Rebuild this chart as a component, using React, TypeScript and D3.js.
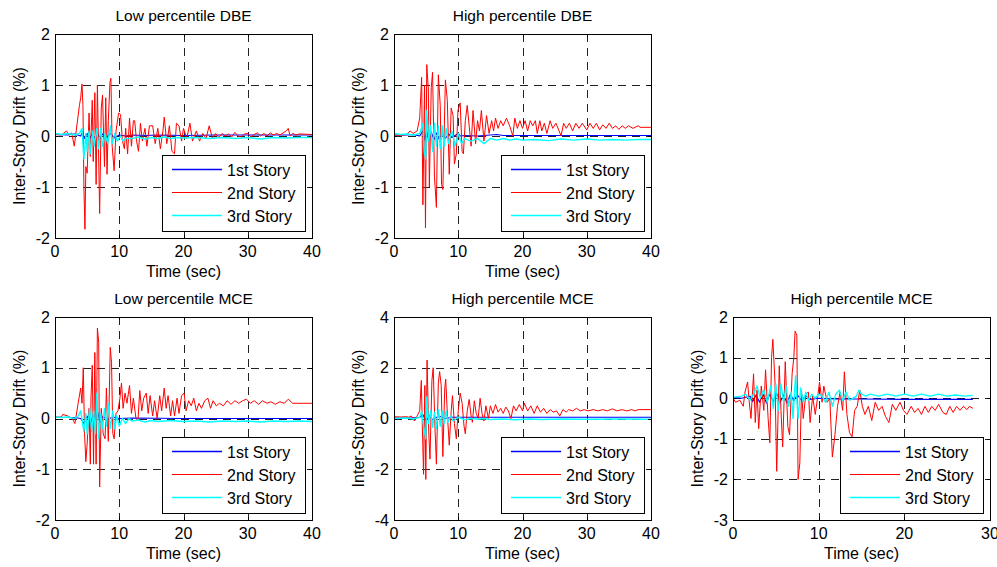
import React from 'react';
import * as d3 from 'd3';

type P = [number, number][];

// ---------- Data (time in sec, drift in %) ----------
const seriesNames = ['1st Story', '2nd Story', '3rd Story'];
const seriesColors = ['#0000ff', '#ff0000', '#00ffff'];
const seriesWidths = [1.1, 1, 1.4];

const p1Blue: P = [[0,0.03],[2,0.02],[3,0.04],[4,0.0],[4.3,0.08],[4.6,-0.05],[5,0.05],[5.4,-0.06],[5.8,0.05],[6.2,-0.04],[6.6,0.06],[7,-0.05],[7.4,0.04],[8,-0.03],[8.7,0.05],[9.2,-0.04],[10,0.02],[11,0.0],[12,0.02],[14,0.01],[16,0.02],[20,0.01],[25,0.02],[30,0.02],[35,0.02],[40,0.02]];
const p1Red: P = [[0,0.03],[1,0.02],[1.8,0.1],[2.2,0.02],[2.6,0.06],[3.0,-0.2],[3.3,0.1],[3.8,0.6],[4.0,0.75],[4.2,1.02],[4.35,0.6],[4.5,-1.0],[4.66,-1.83],[4.8,-0.6],[5.0,-0.73],[5.3,0.45],[5.5,-0.4],[5.8,0.7],[5.95,-0.5],[6.2,0.85],[6.4,-0.95],[6.6,1.0],[6.95,-1.52],[7.2,0.55],[7.4,0.8],[7.7,-0.6],[7.9,0.75],[8.1,-0.75],[8.3,0.3],[8.55,1.05],[8.7,1.13],[8.9,-0.2],[9.2,-0.68],[9.5,0.1],[9.9,0.45],[10.2,0.42],[10.5,-0.1],[10.8,-0.25],[11.0,0.15],[11.3,-0.35],[11.6,0.35],[11.9,-0.2],[12.2,0.3],[12.4,0.3],[12.7,-0.1],[13.0,-0.3],[13.3,0.25],[13.6,-0.1],[14.0,0.15],[14.3,-0.2],[14.7,0.2],[15.2,0.2],[15.6,-0.15],[16.0,0.15],[16.4,-0.25],[16.8,0.1],[17.0,0.37],[17.4,-0.15],[17.8,0.2],[18.2,-0.3],[18.6,-0.35],[18.9,0.25],[19.3,0.2],[19.7,-0.1],[20.0,0.15],[20.5,-0.05],[21.0,0.25],[21.4,-0.1],[22,0.1],[22.5,-0.1],[23,0.05],[23.5,-0.05],[24,0.2],[24.5,-0.05],[25,0.05],[25.5,-0.03],[26,0.05],[26.5,0.0],[27,0.04],[27.5,-0.02],[28,0.07],[28.5,0.0],[29,-0.02],[29.5,0.04],[30,0.05],[30.5,-0.02],[31,0.03],[31.5,0.06],[32,0.0],[32.5,0.05],[33,0.0],[33.5,0.06],[34,0.02],[34.5,0.05],[35,0.02],[35.5,0.06],[36,0.1],[36.3,0.15],[36.6,0.0],[37,0.05],[37.5,0.02],[38,0.04],[40,0.03]];
const p1Cyan: P = [[0,0.05],[1,0.03],[2,0.05],[3,0.02],[3.8,0.05],[4.2,0.15],[4.5,-0.45],[4.8,0.05],[5.0,-0.3],[5.3,0.1],[5.5,-0.35],[5.9,0.1],[6.1,-0.2],[6.5,0.15],[6.8,-0.25],[7.1,0.15],[7.4,-0.2],[7.8,0.05],[8.2,-0.15],[8.6,0.2],[8.9,-0.15],[9.3,0.05],[9.7,-0.1],[10.2,0.0],[10.6,-0.1],[11,-0.05],[12,-0.05],[13,-0.02],[14,-0.06],[15,-0.03],[16,-0.05],[17,-0.02],[18,-0.05],[19,-0.03],[20,-0.04],[22,-0.03],[24,-0.05],[26,-0.03],[28,-0.05],[30,-0.03],[32,-0.06],[34,-0.03],[36,-0.04],[38,-0.03],[40,-0.03]];

const p2Blue: P = [[0,0.02],[2,0.02],[3,0.03],[4,0.0],[4.5,0.1],[4.8,-0.08],[5.1,0.12],[5.4,-0.1],[5.8,0.08],[6.2,-0.08],[6.6,0.06],[7,-0.06],[7.5,0.05],[8,-0.05],[8.5,0.04],[9,-0.03],[10,0.05],[10.3,0.0],[11,0.01],[13,0.0],[16,0.03],[17,0.01],[20,0.01],[30,0.01],[40,0.01]];
const p2Red: P = [[0,0.02],[1,0.01],[2,0.03],[2.5,0.1],[3,0.05],[3.6,0.1],[4.0,0.35],[4.3,1.15],[4.5,-1.35],[4.75,1.0],[4.9,-1.8],[5.1,1.4],[5.35,0.9],[5.5,-1.0],[5.8,0.95],[6.0,1.25],[6.3,-0.8],[6.6,-1.4],[6.9,1.2],[7.2,0.6],[7.4,-0.95],[7.6,-1.05],[8.0,1.1],[8.3,0.7],[8.6,-0.75],[8.9,0.55],[9.2,0.4],[9.4,-0.55],[9.7,-0.35],[9.95,0.5],[10.3,0.65],[10.6,-0.3],[10.8,-0.35],[11.1,0.3],[11.4,0.6],[11.7,0.2],[12.0,-0.2],[12.3,0.5],[12.7,-0.15],[13.0,0.3],[13.3,0.1],[13.6,0.5],[14.0,-0.1],[14.4,0.4],[14.8,0.05],[15.2,0.3],[15.5,0.1],[15.8,0.35],[16.2,0.15],[16.6,0.3],[17.0,0.2],[17.5,0.35],[18.0,0.2],[18.5,0.0],[18.8,0.35],[19.2,0.15],[19.6,0.3],[20.0,0.15],[20.4,0.3],[20.8,0.1],[21.2,0.3],[21.6,0.2],[22.0,0.3],[22.3,0.05],[22.7,0.3],[23.0,0.1],[23.4,0.25],[23.8,0.05],[24.3,0.3],[24.7,0.15],[25.2,0.25],[25.7,0.1],[26.0,0.0],[26.4,0.25],[26.8,0.15],[27.3,0.25],[27.8,0.1],[28.3,0.25],[28.8,0.15],[29.3,0.25],[30,0.12],[30.5,0.25],[31,0.15],[31.5,0.25],[32,0.12],[32.5,0.22],[33,0.15],[33.5,0.25],[34,0.15],[34.5,0.2],[35,0.13],[35.5,0.2],[36,0.15],[36.5,0.2],[37.2,0.15],[38,0.2],[38.3,0.17],[40,0.17]];
const p2Cyan: P = [[0,0.05],[1,0.03],[2,0.04],[3,0.02],[4,0.05],[4.5,0.25],[4.7,-0.3],[4.95,-0.45],[5.1,0.5],[5.4,-0.1],[5.7,0.2],[6.0,-0.3],[6.3,0.25],[6.6,-0.2],[6.9,0.2],[7.2,-0.25],[7.5,0.2],[7.8,-0.2],[8.1,0.15],[8.5,-0.15],[9.0,0.1],[9.5,-0.2],[10,0.05],[10.5,-0.15],[11,-0.05],[12,-0.1],[13,-0.05],[14,-0.15],[15,-0.05],[16,-0.08],[17,-0.05],[18,-0.08],[19,-0.06],[20,-0.08],[22,-0.07],[24,-0.09],[26,-0.06],[28,-0.08],[30,-0.06],[32,-0.08],[34,-0.07],[36,-0.08],[38,-0.07],[40,-0.07]];

const p3Blue: P = [[0,0.02],[3,0.02],[4,0.0],[4.5,-0.1],[5,0.05],[5.5,-0.12],[6,0.1],[6.3,-0.05],[6.6,0.15],[7,-0.08],[7.5,0.05],[8,-0.03],[9,0.03],[10,0.0],[12,0.01],[20,0.0],[40,0.0]];
const p3Red: P = [[0,0.03],[1,0.03],[1.2,0.08],[2,0.05],[2.7,0.0],[3.1,-0.1],[3.6,0.3],[4.0,0.6],[4.2,0.3],[4.4,1.0],[4.6,-0.3],[4.8,-0.85],[5.0,-0.5],[5.3,0.2],[5.5,-0.9],[5.6,0.4],[5.8,1.05],[6.0,-0.9],[6.2,1.3],[6.4,-0.9],[6.6,1.78],[6.8,1.5],[6.95,-1.35],[7.2,0.2],[7.5,-0.3],[7.8,-0.4],[8.0,0.6],[8.3,-0.45],[8.6,1.4],[8.8,1.1],[9.0,-0.3],[9.2,-0.4],[9.5,0.1],[9.8,0.15],[10.1,0.4],[10.35,0.7],[10.6,0.2],[10.9,0.5],[11.2,0.3],[11.6,0.65],[11.9,0.1],[12.2,0.4],[12.6,0.0],[12.9,-0.05],[13.2,0.55],[13.5,0.15],[13.8,0.4],[14.2,0.5],[14.5,0.1],[14.8,0.45],[15.2,0.05],[15.5,0.35],[15.9,0.0],[16.3,0.45],[16.6,0.15],[17.0,0.6],[17.3,0.2],[17.6,0.45],[18.0,0.05],[18.3,0.35],[18.6,0.05],[19.0,0.4],[19.3,0.1],[19.7,0.45],[20.1,0.5],[20.4,0.15],[20.8,0.35],[21.2,0.25],[21.6,0.4],[22.0,0.15],[22.4,0.3],[22.8,0.2],[23.3,0.35],[23.8,0.4],[24.2,0.2],[24.6,0.35],[25.1,0.25],[25.6,0.3],[26.2,0.25],[26.8,0.35],[27.4,0.28],[28,0.35],[28.6,0.3],[29.2,0.35],[29.8,0.38],[30.4,0.3],[31,0.35],[31.7,0.28],[32.3,0.35],[33,0.3],[33.6,0.33],[34.3,0.28],[35,0.33],[35.7,0.3],[36.3,0.38],[37,0.3],[38,0.3],[40,0.3]];
const p3Cyan: P = [[0,0.03],[1,0.02],[2,0.03],[3,0.0],[3.6,0.05],[4.0,0.15],[4.3,-0.1],[4.5,-0.25],[4.8,0.1],[5.0,-0.3],[5.4,0.2],[5.7,-0.25],[6.0,0.15],[6.3,-0.3],[6.5,0.5],[6.8,-0.4],[7.1,0.1],[7.4,-0.2],[7.7,0.2],[8.0,-0.15],[8.3,0.3],[8.6,-0.2],[9.0,0.15],[9.3,-0.2],[9.6,0.05],[10,-0.15],[10.5,0.0],[11,-0.1],[11.5,0.0],[12,-0.05],[13,-0.03],[14,-0.07],[15,-0.04],[16,-0.06],[18,-0.04],[20,-0.06],[22,-0.05],[24,-0.07],[26,-0.05],[28,-0.06],[30,-0.05],[32,-0.07],[34,-0.05],[36,-0.06],[38,-0.05],[40,-0.06]];

const p4Blue: P = [[0,0.02],[3,0.03],[4,0.05],[4.5,0.15],[5,-0.1],[5.5,0.12],[6,-0.05],[7,0.1],[8,0.0],[9,0.05],[10,0.05],[20,0.05],[40,0.05]];
const p4Red: P = [[0,0.07],[1,0.06],[2,0.07],[2.3,0.05],[2.7,0.1],[3.2,-0.1],[3.6,0.1],[4.0,0.3],[4.25,1.5],[4.4,-0.2],[4.6,-2.2],[4.8,1.3],[4.95,-2.4],[5.15,2.3],[5.4,-0.5],[5.6,-1.6],[5.9,1.5],[6.1,2.0],[6.4,-0.5],[6.6,-1.8],[6.9,1.4],[7.1,1.85],[7.35,1.3],[7.6,-1.5],[7.9,1.2],[8.05,1.55],[8.3,0.2],[8.6,-1.05],[8.9,0.3],[9.1,0.9],[9.4,-0.2],[9.7,-0.8],[10.0,0.3],[10.3,1.0],[10.6,0.6],[10.9,-0.3],[11.1,-0.6],[11.4,0.3],[11.7,0.75],[12.0,0.1],[12.2,-0.15],[12.5,0.7],[12.8,0.2],[13.1,0.0],[13.4,0.8],[13.7,0.2],[14.0,-0.1],[14.3,0.5],[14.7,0.0],[15.0,0.5],[15.4,0.2],[15.8,0.55],[16.2,0.25],[16.6,0.4],[17.0,0.2],[17.4,0.45],[17.8,0.3],[18.2,0.0],[18.6,0.5],[19.0,0.3],[19.5,0.55],[20.0,0.3],[20.3,0.6],[20.8,0.3],[21.3,0.5],[21.8,0.2],[22.3,0.5],[22.8,0.25],[23.3,0.4],[23.8,0.2],[24.3,0.35],[24.8,0.25],[25.3,0.3],[25.8,0.1],[26.3,0.35],[26.8,0.25],[27.2,0.35],[27.8,0.3],[28.4,0.4],[29,0.3],[29.6,0.35],[30.2,0.3],[31,0.35],[31.8,0.3],[32.5,0.35],[33.2,0.3],[34,0.38],[34.7,0.3],[35.5,0.35],[36.2,0.3],[37,0.35],[37.5,0.3],[38,0.35],[40,0.35]];
const p4Cyan: P = [[0,0.0],[2,0.02],[3,-0.02],[4,0.05],[4.3,0.3],[4.6,-0.3],[4.95,-0.8],[5.1,0.85],[5.4,-0.2],[5.7,0.3],[6.0,-0.35],[6.3,0.25],[6.6,-0.4],[6.9,0.35],[7.2,-0.3],[7.5,0.3],[7.8,-0.2],[8.1,0.3],[8.4,-0.15],[8.8,0.1],[9.2,-0.1],[10,0.05],[11,-0.05],[12,0.0],[13,-0.03],[14,0.0],[15,-0.04],[17,-0.02],[19,-0.05],[21,-0.02],[23,-0.04],[26,-0.02],[30,-0.03],[35,-0.02],[40,-0.03]];

const p5Blue: P = [[0,0.02],[1,0.0],[2,0.05],[2.3,-0.08],[2.7,0.08],[3.1,-0.1],[3.5,0.1],[3.9,-0.12],[4.3,0.1],[4.7,-0.08],[5.1,0.12],[5.5,-0.1],[5.9,0.08],[6.3,-0.12],[6.7,0.1],[7.1,-0.06],[7.5,0.08],[8,-0.05],[8.5,0.05],[9,-0.03],[10,0.0],[12,-0.02],[15,-0.02],[20,-0.03],[28,-0.03]];
const p5Red: P = [[0,0.0],[0.3,-0.1],[0.8,-0.05],[1.2,-0.2],[1.4,0.15],[1.7,0.4],[1.9,-0.1],[2.1,-0.5],[2.4,0.6],[2.6,-0.6],[2.8,0.2],[3.0,-0.75],[3.3,0.3],[3.6,-0.3],[3.8,0.7],[4.1,-0.5],[4.3,-1.1],[4.5,1.0],[4.65,1.45],[4.9,0.4],[5.1,-1.8],[5.4,0.8],[5.6,-0.3],[5.8,-1.2],[6.1,0.9],[6.4,-0.7],[6.6,-0.9],[6.9,0.6],[7.1,1.0],[7.25,1.65],[7.45,1.55],[7.6,-2.0],[7.8,-1.6],[8.0,0.2],[8.2,-0.5],[8.5,0.1],[8.8,0.15],[9.0,-0.6],[9.3,0.05],[9.6,-0.4],[9.9,0.05],[10.1,0.4],[10.4,-0.1],[10.6,0.3],[11.0,-0.1],[11.3,0.0],[11.6,-1.45],[11.9,-0.9],[12.2,-0.2],[12.5,0.15],[12.8,-0.3],[13.0,0.65],[13.3,-0.4],[13.6,-0.85],[13.9,-0.95],[14.2,-0.3],[14.5,-0.2],[14.8,0.2],[15.1,-0.2],[15.4,-0.4],[15.8,-0.2],[16.2,-0.55],[16.6,-0.1],[17.0,-0.3],[17.4,-0.2],[17.8,-0.45],[18.2,-0.6],[18.6,-0.15],[19.0,-0.3],[19.5,-0.1],[19.9,-0.3],[20.3,-0.4],[20.8,-0.2],[21.2,-0.35],[21.6,-0.25],[22.0,-0.4],[22.4,-0.2],[22.8,-0.35],[23.2,-0.2],[23.6,-0.3],[24.0,-0.15],[24.5,-0.35],[24.9,-0.4],[25.3,-0.2],[25.7,-0.35],[26.1,-0.2],[26.5,-0.3],[26.9,-0.2],[27.3,-0.28],[27.6,-0.2],[28,-0.25]];
const p5Cyan: P = [[0,0.02],[1,0.05],[1.5,0.1],[2,-0.05],[2.4,0.1],[2.8,0.3],[3.2,0.0],[3.6,0.2],[4.0,-0.1],[4.4,0.3],[4.7,-0.25],[5.0,0.35],[5.3,-0.3],[5.6,0.35],[5.9,-0.1],[6.2,0.3],[6.5,-0.2],[6.8,0.15],[7.0,-0.5],[7.3,0.55],[7.6,-0.5],[7.9,0.25],[8.2,-0.1],[8.5,0.15],[8.8,-0.05],[9.2,0.1],[9.6,0.0],[10,0.1],[10.4,0.05],[10.8,-0.1],[11.2,0.15],[11.6,-0.2],[12.0,0.1],[12.4,0.2],[12.8,-0.05],[13.2,0.15],[13.6,-0.05],[14.0,0.0],[14.4,0.05],[14.7,0.2],[15.0,0.1],[15.5,0.05],[16,0.1],[17,0.05],[18,0.1],[19,0.05],[20,0.1],[21,0.05],[22,0.1],[23,0.05],[24,0.1],[25,0.05],[26,0.08],[27,0.05],[28,0.07]];

const xTicks40 = [0, 10, 20, 30, 40];
const xTicks30 = [0, 10, 20, 30];
const yTicks2 = [-2, -1, 0, 1, 2];
const yTicks4 = [-4, -2, 0, 2, 4];
const yTicks3 = [-3, -2, -1, 0, 1, 2];

const titles = ['Low percentile DBE', 'High percentile DBE', 'Low percentile MCE', 'High percentile MCE', 'High percentile MCE'];
const xLabel = 'Time (sec)';
const yLabel = 'Inter-Story Drift (%)';

// ---------- Layout ----------
const panels = [
  { title: titles[0], left: 55, top: 34, width: 257, height: 204, xTicks: xTicks40, yTicks: yTicks2, series: [p1Blue, p1Red, p1Cyan] },
  { title: titles[1], left: 394, top: 34, width: 257, height: 204, xTicks: xTicks40, yTicks: yTicks2, series: [p2Blue, p2Red, p2Cyan] },
  { title: titles[2], left: 55, top: 317, width: 257, height: 203, xTicks: xTicks40, yTicks: yTicks2, series: [p3Blue, p3Red, p3Cyan] },
  { title: titles[3], left: 394, top: 317, width: 257, height: 203, xTicks: xTicks40, yTicks: yTicks4, series: [p4Blue, p4Red, p4Cyan] },
  { title: titles[4], left: 733, top: 317, width: 257, height: 203, xTicks: xTicks30, yTicks: yTicks3, series: [p5Blue, p5Red, p5Cyan] },
];

const FONT = '"Liberation Sans", Arial, Helvetica, sans-serif';

function Panel({ cfg, idx }: { cfg: any; idx: number }) {
  const { left, top, width, height } = cfg;
  const right = left + width;
  const bottom = top + height;
  const xt: number[] = cfg.xTicks;
  const yt: number[] = cfg.yTicks;
  const x = d3.scaleLinear().domain([xt[0], xt[xt.length - 1]]).range([left, right]);
  const y = d3.scaleLinear().domain([yt[0], yt[yt.length - 1]]).range([bottom, top]);
  const line = d3.line<[number, number]>().x(d => x(d[0])).y(d => y(d[1]));
  const tick = 3;
  const clipId = `clip${idx}`;
  const lgW = 143, lgH = 76;
  const lgL = right - 7 - lgW;
  const lgT = bottom - 7 - lgH;
  return (
    <g>
      <defs>
        <clipPath id={clipId}>
          <rect x={left} y={top} width={width} height={height} />
        </clipPath>
      </defs>
      <rect x={left} y={top} width={width} height={height} fill="#fff" />
      {/* grid */}
      <g stroke="#222" strokeWidth={1} strokeDasharray="8,6" fill="none">
        {xt.slice(1, -1).map(t => (
          <line key={'gx' + t} x1={Math.round(x(t)) + 0.5} x2={Math.round(x(t)) + 0.5} y1={top} y2={bottom} />
        ))}
        {yt.slice(1, -1).map(t => (
          <line key={'gy' + t} x1={left} x2={right} y1={Math.round(y(t)) + 0.5} y2={Math.round(y(t)) + 0.5} />
        ))}
      </g>
      {/* series */}
      <g clipPath={`url(#${clipId})`} fill="none">
        {cfg.series.map((s: P, i: number) => (
          <path key={i} d={line(s) || ''} stroke={seriesColors[i]} strokeWidth={seriesWidths[i]} strokeLinejoin="round" />
        ))}
      </g>
      {/* box & ticks */}
      <rect x={left + 0.5} y={top + 0.5} width={width} height={height} fill="none" stroke="#000" strokeWidth={1} />
      <g stroke="#000" strokeWidth={1}>
        {xt.map(t => {
          const px = Math.round(x(t)) + 0.5;
          return (
            <g key={'tx' + t}>
              <line x1={px} x2={px} y1={bottom} y2={bottom - tick} />
              <line x1={px} x2={px} y1={top} y2={top + tick} />
            </g>
          );
        })}
        {yt.map(t => {
          const py = Math.round(y(t)) + 0.5;
          return (
            <g key={'ty' + t}>
              <line x1={left} x2={left + tick} y1={py} y2={py} />
              <line x1={right} x2={right - tick} y1={py} y2={py} />
            </g>
          );
        })}
      </g>
      {/* tick labels */}
      <g fontFamily={FONT} fontSize={16} fill="#000">
        {xt.map(t => (
          <text key={'lx' + t} x={x(t)} y={bottom + 19} textAnchor="middle">{t}</text>
        ))}
        {yt.map(t => (
          <text key={'ly' + t} x={left - 5} y={y(t)} dy="0.35em" textAnchor="end">{t}</text>
        ))}
        <text x={(left + right) / 2} y={top - 13} textAnchor="middle" fontSize={15.5}>{cfg.title}</text>
        <text x={(left + right) / 2} y={bottom + 38.5} textAnchor="middle">{xLabel}</text>
        <text transform={`translate(${left - 30},${(top + bottom) / 2}) rotate(-90)`} textAnchor="middle">{yLabel}</text>
      </g>
      {/* legend */}
      <g>
        <rect x={lgL + 0.5} y={lgT + 0.5} width={lgW} height={lgH} fill="#fff" stroke="#000" strokeWidth={1} />
        {seriesNames.map((n, i) => {
          const ry = lgT + 14.5 + i * 23;
          return (
            <g key={n}>
              <line x1={lgL + 10} x2={lgL + 60} y1={ry} y2={ry} stroke={seriesColors[i]} strokeWidth={seriesWidths[i] + 0.2} />
              <text x={lgL + 65} y={ry + 6} fontFamily={FONT} fontSize={16} fill="#000">{n}</text>
            </g>
          );
        })}
      </g>
    </g>
  );
}

export default function App() {
  return (
    <svg width={997} height={567} style={{ position: 'absolute', left: 0, top: 0, background: '#fff' }}>
      <rect x={0} y={0} width={997} height={567} fill="#fff" />
      {panels.map((p, i) => (
        <Panel key={i} cfg={p} idx={i} />
      ))}
    </svg>
  );
}
